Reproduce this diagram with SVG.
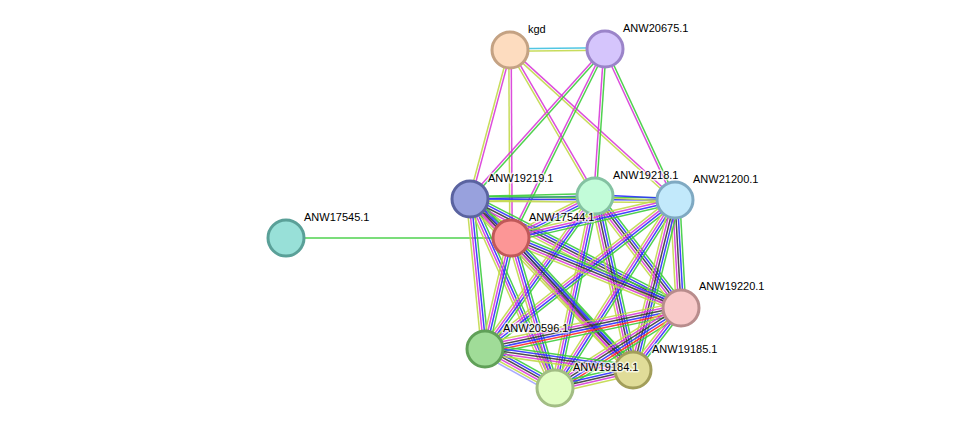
<svg xmlns="http://www.w3.org/2000/svg" width="976" height="435" viewBox="0 0 976 435">
<style>
line{stroke-width:1.5;fill:none;stroke-opacity:0.9}
.g{stroke:#3ccc3c}.r{stroke:#ff2a2a}.b{stroke:#2f2fff}.k{stroke:#3a3a3a}.m{stroke:#d83ad8}.c{stroke:#3ec0e0}.y{stroke:#c2d84a}.h{stroke:#a0a0ff}
.node circle{stroke-width:3}
text{font-family:"Liberation Sans",Arial,sans-serif;font-size:11px;fill:#000;stroke:#fff;stroke-width:3;stroke-opacity:0.7;paint-order:stroke;stroke-linejoin:round}
</style>
<rect width="976" height="435" fill="#fff"/>
<g id="connectors">
<!-- kgd - ANW20675.1 -->
<g transform="translate(510 50) rotate(-0.6)"><line x2="95" y1="-1.2" y2="-1.2" class="c"/><line x2="95" y1="1.2" y2="1.2" class="y"/></g>
<!-- kgd - ANW19219.1 -->
<g transform="translate(510 50) rotate(105)"><line x2="154.3" y1="-1.2" y2="-1.2" class="m"/><line x2="154.3" y1="1.2" y2="1.2" class="y"/></g>
<!-- kgd - ANW17544.1 -->
<g transform="translate(510 50) rotate(89.7)"><line x2="188" y1="-1.2" y2="-1.2" class="m"/><line x2="188" y1="1.2" y2="1.2" class="y"/></g>
<!-- kgd - ANW19218.1 -->
<g transform="translate(510 50) rotate(59.8)"><line x2="168.9" y1="-1.2" y2="-1.2" class="m"/><line x2="168.9" y1="1.2" y2="1.2" class="y"/></g>
<!-- kgd - ANW21200.1 -->
<g transform="translate(510 50) rotate(42.3)"><line x2="223" y1="-1.2" y2="-1.2" class="m"/><line x2="223" y1="1.2" y2="1.2" class="y"/></g>
<!-- ANW20675.1 edges -->
<g transform="translate(605 49) rotate(132)"><line x2="201.8" y1="-1.2" y2="-1.2" class="g"/><line x2="201.8" y1="1.2" y2="1.2" class="m"/></g>
<g transform="translate(605 49) rotate(116.4)"><line x2="211.1" y1="-1.2" y2="-1.2" class="g"/><line x2="211.1" y1="1.2" y2="1.2" class="m"/></g>
<g transform="translate(605 49) rotate(93.9)"><line x2="147.3" y1="-1.2" y2="-1.2" class="g"/><line x2="147.3" y1="1.2" y2="1.2" class="m"/></g>
<g transform="translate(605 49) rotate(65.1)"><line x2="166.4" y1="-1.2" y2="-1.2" class="g"/><line x2="166.4" y1="1.2" y2="1.2" class="m"/></g>
<!-- ANW17545.1 - ANW17544.1 -->
<line x1="286" y1="238" x2="511" y2="238" class="g"/>
<!-- A ANW19219.1 -->
<g transform="translate(470 199) rotate(-1.4)"><line x2="125" y1="-2.4" y2="-2.4" class="g"/><line x2="125" class="b"/><line x2="125" y1="2.4" y2="2.4" class="y"/></g>
<g transform="translate(470 199) rotate(0.3)"><line x2="205" y1="-2.4" y2="-2.4" class="g"/><line x2="205" class="b"/><line x2="205" y1="2.4" y2="2.4" class="y"/></g>
<g transform="translate(470 199) rotate(43.6)"><line x2="56.6" y1="-4.8" y2="-4.8" class="g"/><line x2="56.6" y1="-2.4" y2="-2.4" class="b"/><line x2="56.6" class="k"/><line x2="56.6" y1="2.4" y2="2.4" class="m"/><line x2="56.6" y1="4.8" y2="4.8" class="y"/></g>
<g transform="translate(470 199) rotate(27.3)"><line x2="237.5" y1="-4.8" y2="-4.8" class="g"/><line x2="237.5" y1="-2.4" y2="-2.4" class="b"/><line x2="237.5" class="k"/><line x2="237.5" y1="2.4" y2="2.4" class="m"/><line x2="237.5" y1="4.8" y2="4.8" class="y"/></g>
<g transform="translate(470 199) rotate(84.3)"><line x2="150.7" y1="-3.6" y2="-3.6" class="g"/><line x2="150.7" y1="-1.2" y2="-1.2" class="b"/><line x2="150.7" y1="1.2" y2="1.2" class="m"/><line x2="150.7" y1="3.6" y2="3.6" class="y"/></g>
<g transform="translate(470 199) rotate(65.8)"><line x2="207.2" y1="-3.6" y2="-3.6" class="g"/><line x2="207.2" y1="-1.2" y2="-1.2" class="b"/><line x2="207.2" y1="1.2" y2="1.2" class="m"/><line x2="207.2" y1="3.6" y2="3.6" class="y"/></g>
<g transform="translate(470 199) rotate(46.4)"><line x2="236.2" y1="-4.8" y2="-4.8" class="g"/><line x2="236.2" y1="-2.4" y2="-2.4" class="b"/><line x2="236.2" class="k"/><line x2="236.2" y1="2.4" y2="2.4" class="m"/><line x2="236.2" y1="4.8" y2="4.8" class="y"/></g>
<!-- B ANW19218.1 -->
<g transform="translate(595 196) rotate(2.9)"><line x2="80.1" y1="-1.2" y2="-1.2" class="b"/><line x2="80.1" y1="1.2" y2="1.2" class="y"/></g>
<g transform="translate(595 196) rotate(153.4)"><line x2="93.9" y1="-3.6" y2="-3.6" class="g"/><line x2="93.9" y1="-1.2" y2="-1.2" class="b"/><line x2="93.9" y1="1.2" y2="1.2" class="m"/><line x2="93.9" y1="3.6" y2="3.6" class="y"/></g>
<g transform="translate(595 196) rotate(52.5)"><line x2="141.2" y1="-4.8" y2="-4.8" class="g"/><line x2="141.2" y1="-2.4" y2="-2.4" class="b"/><line x2="141.2" class="k"/><line x2="141.2" y1="2.4" y2="2.4" class="m"/><line x2="141.2" y1="4.8" y2="4.8" class="y"/></g>
<g transform="translate(595 196) rotate(125.7)"><line x2="188.4" y1="-3.6" y2="-3.6" class="g"/><line x2="188.4" y1="-1.2" y2="-1.2" class="b"/><line x2="188.4" y1="1.2" y2="1.2" class="m"/><line x2="188.4" y1="3.6" y2="3.6" class="y"/></g>
<g transform="translate(595 196) rotate(101.8)"><line x2="196.1" y1="-3.6" y2="-3.6" class="g"/><line x2="196.1" y1="-1.2" y2="-1.2" class="b"/><line x2="196.1" y1="1.2" y2="1.2" class="m"/><line x2="196.1" y1="3.6" y2="3.6" class="y"/></g>
<g transform="translate(595 196) rotate(77.7)"><line x2="178.1" y1="-4.8" y2="-4.8" class="g"/><line x2="178.1" y1="-2.4" y2="-2.4" class="b"/><line x2="178.1" class="k"/><line x2="178.1" y1="2.4" y2="2.4" class="m"/><line x2="178.1" y1="4.8" y2="4.8" class="y"/></g>
<!-- C ANW21200.1 -->
<g transform="translate(675 200) rotate(167)"><line x2="168.3" y1="-3.6" y2="-3.6" class="g"/><line x2="168.3" y1="-1.2" y2="-1.2" class="b"/><line x2="168.3" y1="1.2" y2="1.2" class="m"/><line x2="168.3" y1="3.6" y2="3.6" class="y"/></g>
<g transform="translate(675 200) rotate(86.8)"><line x2="108.2" y1="-4.8" y2="-4.8" class="g"/><line x2="108.2" y1="-2.4" y2="-2.4" class="b"/><line x2="108.2" class="k"/><line x2="108.2" y1="2.4" y2="2.4" class="m"/><line x2="108.2" y1="4.8" y2="4.8" class="y"/></g>
<g transform="translate(675 200) rotate(141.9)"><line x2="241.5" y1="-3.6" y2="-3.6" class="g"/><line x2="241.5" y1="-1.2" y2="-1.2" class="b"/><line x2="241.5" y1="1.2" y2="1.2" class="m"/><line x2="241.5" y1="3.6" y2="3.6" class="y"/></g>
<g transform="translate(675 200) rotate(122.6)"><line x2="223" y1="-3.6" y2="-3.6" class="g"/><line x2="223" y1="-1.2" y2="-1.2" class="b"/><line x2="223" y1="1.2" y2="1.2" class="m"/><line x2="223" y1="3.6" y2="3.6" class="y"/></g>
<g transform="translate(675 200) rotate(103.9)"><line x2="175.1" y1="-4.8" y2="-4.8" class="g"/><line x2="175.1" y1="-2.4" y2="-2.4" class="b"/><line x2="175.1" class="k"/><line x2="175.1" y1="2.4" y2="2.4" class="m"/><line x2="175.1" y1="4.8" y2="4.8" class="y"/></g>
<!-- D ANW17544.1 -->
<g transform="translate(511 238) rotate(22.4)"><line x2="183.8" y1="-4.8" y2="-4.8" class="g"/><line x2="183.8" y1="-2.4" y2="-2.4" class="b"/><line x2="183.8" class="k"/><line x2="183.8" y1="2.4" y2="2.4" class="m"/><line x2="183.8" y1="4.8" y2="4.8" class="y"/></g>
<g transform="translate(511 238) rotate(103.2)"><line x2="114" y1="-3.6" y2="-3.6" class="g"/><line x2="114" y1="-1.2" y2="-1.2" class="b"/><line x2="114" y1="1.2" y2="1.2" class="m"/><line x2="114" y1="3.6" y2="3.6" class="y"/></g>
<g transform="translate(511 238) rotate(73.7)"><line x2="156.3" y1="-3.6" y2="-3.6" class="g"/><line x2="156.3" y1="-1.2" y2="-1.2" class="b"/><line x2="156.3" y1="1.2" y2="1.2" class="m"/><line x2="156.3" y1="3.6" y2="3.6" class="y"/></g>
<g transform="translate(511 238) rotate(47.3)"><line x2="179.7" y1="-4.8" y2="-4.8" class="g"/><line x2="179.7" y1="-2.4" y2="-2.4" class="b"/><line x2="179.7" class="k"/><line x2="179.7" y1="2.4" y2="2.4" class="m"/><line x2="179.7" y1="4.8" y2="4.8" class="y"/></g>
<!-- E ANW19220.1 -->
<g transform="translate(681 308) rotate(168.2)"><line x2="200.2" y1="-6" y2="-6" class="g"/><line x2="200.2" y1="-3.6" y2="-3.6" class="r"/><line x2="200.2" y1="-1.2" y2="-1.2" class="b"/><line x2="200.2" y1="1.2" y2="1.2" class="k"/><line x2="200.2" y1="3.6" y2="3.6" class="m"/><line x2="200.2" y1="6" y2="6" class="y"/></g>
<g transform="translate(681 308) rotate(147.6)"><line x2="149.3" y1="-6" y2="-6" class="g"/><line x2="149.3" y1="-3.6" y2="-3.6" class="r"/><line x2="149.3" y1="-1.2" y2="-1.2" class="b"/><line x2="149.3" y1="1.2" y2="1.2" class="k"/><line x2="149.3" y1="3.6" y2="3.6" class="m"/><line x2="149.3" y1="6" y2="6" class="y"/></g>
<g transform="translate(681 308) rotate(127.7)"><line x2="78.4" y1="-3.6" y2="-3.6" class="g"/><line x2="78.4" y1="-1.2" y2="-1.2" class="b"/><line x2="78.4" y1="1.2" y2="1.2" class="m"/><line x2="78.4" y1="3.6" y2="3.6" class="y"/></g>
<!-- F ANW20596.1 -->
<g transform="translate(485 349) rotate(29.1)"><line x2="80.1" y1="-6" y2="-6" class="g"/><line x2="80.1" y1="-3.6" y2="-3.6" class="b"/><line x2="80.1" y1="-1.2" y2="-1.2" class="k"/><line x2="80.1" y1="1.2" y2="1.2" class="m"/><line x2="80.1" y1="3.6" y2="3.6" class="y"/><line x2="80.1" y1="6" y2="6" class="h"/></g>
<g transform="translate(485 349) rotate(8.1)"><line x2="149.5" y1="-4.8" y2="-4.8" class="g"/><line x2="149.5" y1="-2.4" y2="-2.4" class="b"/><line x2="149.5" class="k"/><line x2="149.5" y1="2.4" y2="2.4" class="m"/><line x2="149.5" y1="4.8" y2="4.8" class="y"/></g>
<!-- G ANW19184.1 - H ANW19185.1 -->
<g transform="translate(555 388) rotate(-13)"><line x2="80.05" y1="-4.8" y2="-4.8" class="g"/><line x2="80.05" y1="-2.4" y2="-2.4" class="b"/><line x2="80.05" class="k"/><line x2="80.05" y1="2.4" y2="2.4" class="m"/><line x2="80.05" y1="4.8" y2="4.8" class="y"/></g>
</g>
<g id="node-kgd" class="node"><circle cx="510" cy="50" r="18" fill="#fddcbf" stroke="#c4a283"/><text x="528" y="33">kgd</text></g>
<g id="node-ANW20675.1" class="node"><circle cx="605" cy="49" r="18" fill="#d5c5fc" stroke="#9b84c9"/><text x="623" y="32">ANW20675.1</text></g>
<g id="node-ANW19219.1" class="node"><circle cx="470" cy="199" r="18" fill="#98a1dd" stroke="#5a63a0"/><text x="488" y="182">ANW19219.1</text></g>
<g id="node-ANW19218.1" class="node"><circle cx="595" cy="196" r="18" fill="#c2fcd9" stroke="#84c2a2"/><text x="613" y="179">ANW19218.1</text></g>
<g id="node-ANW21200.1" class="node"><circle cx="675" cy="200" r="18" fill="#c2e9fb" stroke="#7fa9c2"/><text x="693" y="183">ANW21200.1</text></g>
<g id="node-ANW17545.1" class="node"><circle cx="286" cy="238" r="18" fill="#98e0d8" stroke="#5aa098"/><text x="304" y="221">ANW17545.1</text></g>
<g id="node-ANW17544.1" class="node"><circle cx="511" cy="238" r="18" fill="#fc9696" stroke="#c05959"/><text x="529" y="221">ANW17544.1</text></g>
<g id="node-ANW19220.1" class="node"><circle cx="681" cy="308" r="18" fill="#f8c9c9" stroke="#b88c8c"/><text x="699" y="290">ANW19220.1</text></g>
<g id="node-ANW20596.1" class="node"><circle cx="485" cy="349" r="18" fill="#a0dc98" stroke="#60a058"/><text x="503" y="332">ANW20596.1</text></g>
<g id="node-ANW19185.1" class="node"><circle cx="633" cy="370" r="18" fill="#e0dc98" stroke="#a29e5a"/><text x="652" y="353">ANW19185.1</text></g>
<g id="node-ANW19184.1" class="node"><circle cx="555" cy="388" r="18" fill="#e1fdc3" stroke="#a2bd84"/><text x="573" y="371">ANW19184.1</text></g>
</svg>
